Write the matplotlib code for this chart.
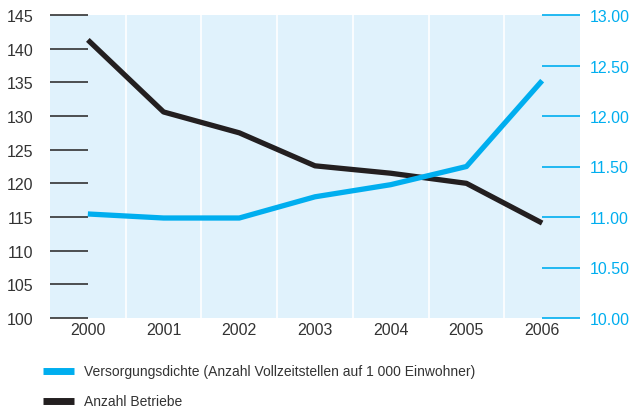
import numpy as np
import matplotlib.pyplot as plt
from matplotlib.lines import Line2D

plt.rcParams['font.family'] = ['Liberation Sans', 'DejaVu Sans']

years = [2000, 2001, 2002, 2003, 2004, 2005, 2006]
betriebe = [141.3, 130.6, 127.5, 122.6, 121.5, 120.0, 114.1]
dichte = [11.03, 10.99, 10.99, 11.20, 11.32, 11.50, 12.35]

left_ticks = [100, 105, 110, 115, 120, 125, 130, 135, 140, 145]
right_ticks = [10.0, 10.5, 11.0, 11.5, 12.0, 12.5, 13.0]

blue = '#00aeef'
black = '#231f20'
bg = '#e0f2fc'
grey = '#333333'

fig = plt.figure(figsize=(6.31, 4.14), dpi=100)
ax = fig.add_axes([50 / 631, 95 / 414, 530 / 631, 303 / 414])
ax2 = ax.twinx()

ax.set_xlim(years[0] - 0.5, years[-1] + 0.5)
ax.set_ylim(left_ticks[0], left_ticks[-1])
ax2.set_ylim(right_ticks[0], right_ticks[-1])
ax.set_facecolor(bg)

# white separators between years
for x in np.array(years[:-1]) + 0.5:
    ax.axvline(x, color='white', lw=1.2, zorder=1)

# short tick lines on both sides
ax.hlines(left_ticks, years[0] - 0.5, years[0], color=grey, lw=1.2, zorder=2, clip_on=False)
ax2.hlines(right_ticks, years[-1], years[-1] + 0.5, color=blue, lw=1.2, zorder=2, clip_on=False)

ax.plot(years, betriebe, color=black, lw=3.8, zorder=3, solid_capstyle='butt')
ax2.plot(years, dichte, color=blue, lw=3.8, zorder=3, solid_capstyle='butt')

for a in (ax, ax2):
    for s in a.spines.values():
        s.set_visible(False)

ax.set_xticks(years)
ax.set_xticklabels([str(y) for y in years])
ax.tick_params(axis='x', length=0, pad=3, labelsize=11.5, labelcolor=grey)
ax.set_yticks(left_ticks)
ax.set_yticklabels([str(t) for t in left_ticks])
ax.tick_params(axis='y', length=0, pad=12, labelsize=11.5, labelcolor=grey)
ax2.set_yticks(right_ticks)
ax2.set_yticklabels(['%.2f' % t for t in right_ticks])
ax2.tick_params(axis='y', length=0, pad=7, labelsize=11.5, labelcolor=blue)

handles = [
    Line2D([], [], color=blue, lw=5, solid_capstyle='butt'),
    Line2D([], [], color=black, lw=5, solid_capstyle='butt'),
]
labels = ['Versorgungsdichte (Anzahl Vollzeitstellen auf 1 000 Einwohner)', 'Anzahl Betriebe']
fig.legend(handles, labels, loc='upper left', bbox_to_anchor=(30 / 631, 1 - 353 / 414),
           frameon=False, prop={'size': 10},
           handlelength=2.3, handletextpad=0.7, labelspacing=1.15, labelcolor=grey)

fig.savefig('out.png', dpi=100)
